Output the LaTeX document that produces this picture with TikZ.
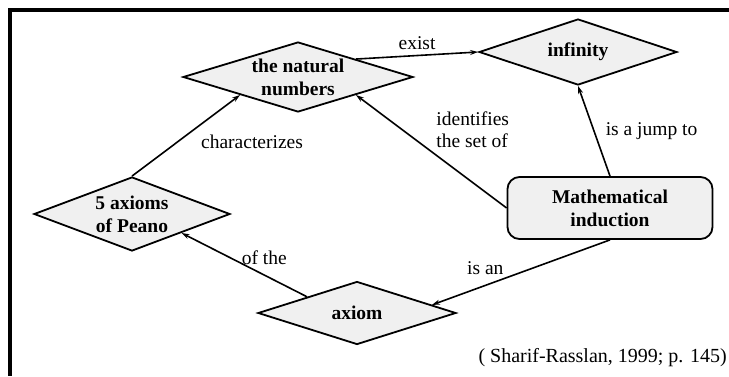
\documentclass[tikz,border=0pt]{standalone}
\usepackage{fontspec}
\setmainfont{Liberation Serif}
\usepackage{tikz}
\usetikzlibrary{arrows.meta,calc,shapes.geometric}
\definecolor{conceptfill}{RGB}{240,240,240}
\tikzset{
  concept/.style={diamond, draw, fill=conceptfill, line width=1.8pt, inner sep=0pt, align=center, font=\fontsize{19.5}{23}\selectfont\bfseries},
  rootbox/.style={rectangle, rounded corners=12pt, draw, fill=conceptfill, line width=1.8pt, align=center, minimum width=205pt, minimum height=62pt, font=\fontsize{19.5}{23}\selectfont\bfseries},
  link/.style={->, >={Stealth[length=8pt,width=5pt]}, line width=1.6pt},
  linklabel/.style={inner sep=1pt, align=left, font=\fontsize{19.5}{22}\selectfont}
}

\begin{document}
\begin{tikzpicture}[x=1pt,y=-1pt]
    \useasboundingbox (0,0) rectangle (729,376);
    \draw[line width=3.4pt] (729,10) -- (10,10) -- (10,376);

    % concepts
    \node[concept, minimum width=230pt, minimum height=70pt, aspect=3.29] (naturals) at (298,77) {the natural\\numbers};
    \node[concept, minimum width=198pt, minimum height=66pt, aspect=3] (infinity) at (578,52) {infinity};
    \node[concept, minimum width=196pt, minimum height=74pt, aspect=2.65] (peano) at (132,214) {5 axioms\\of Peano};
    \node[concept, minimum width=198pt, minimum height=63pt, aspect=3.14] (axiom) at (357,313) {axiom};
    \node[rootbox] (induction) at (610,208) {Mathematical\\induction};

    % links
    \draw[link] (naturals.north east) -- node[linklabel, midway, anchor=south, yshift=4pt] (lblexist) {exist} (infinity.west);
    \draw[link] (peano.north) -- node[linklabel, pos=0.42, anchor=west, xshift=22pt] (lblchar) {characterizes} (naturals.south west);
    \draw[link] (induction.west) -- node[linklabel, pos=0.69, anchor=west, xshift=32pt] (lblident) {identifies\\the set of} (naturals.south east);
    \draw[link] (induction.north) -- node[linklabel, midway, anchor=west, xshift=10pt] (lbljump) {is a jump to} (infinity.south);
    \coordinate (axiomin) at ($(axiom.north east)!0.5!(axiom.east)$);
    \draw[link] (induction.south) -- node[linklabel, pos=0.7, anchor=south, yshift=9pt] (lblisan) {is an} (axiomin);
    \draw[link] (axiom.north west) -- node[linklabel, pos=0.34, anchor=south, yshift=9pt] (lblofthe) {of the} (peano.south east);

    \node[anchor=base east, inner sep=0pt, font=\fontsize{20}{24}\selectfont] (source) at (727,362) {( Sharif-Rasslan, 1999; p. 145)};
\end{tikzpicture}
\end{document}
